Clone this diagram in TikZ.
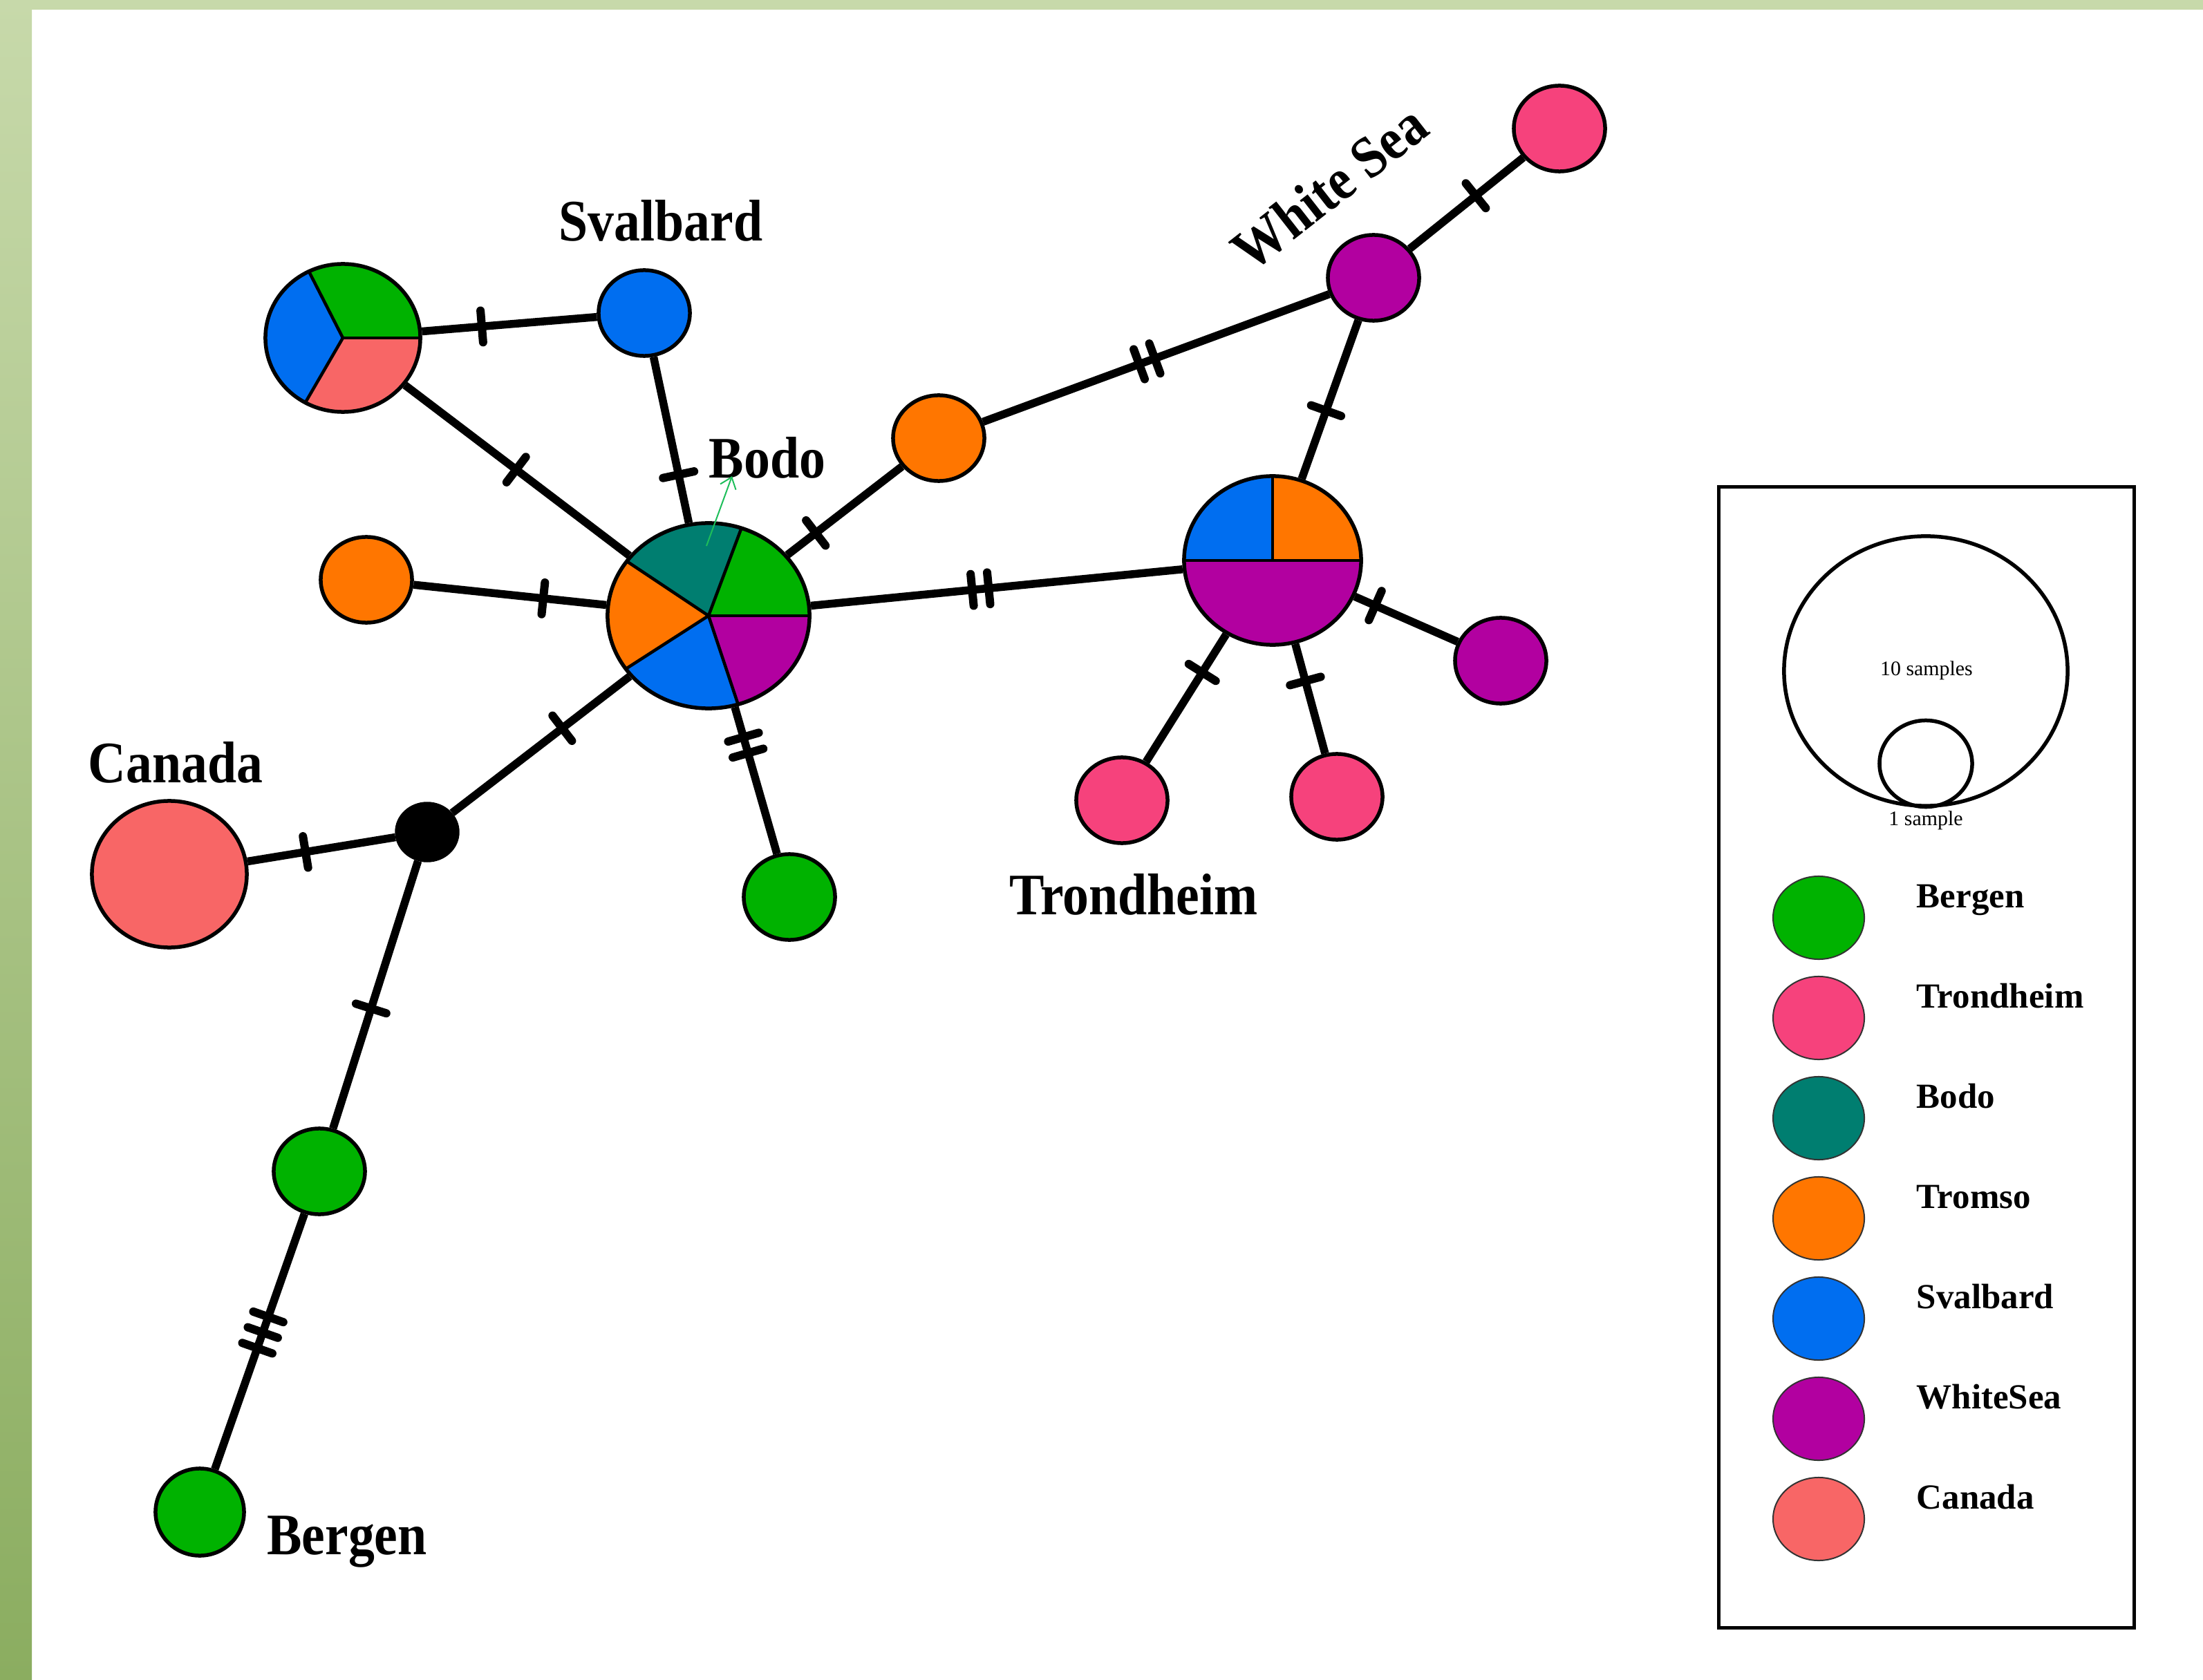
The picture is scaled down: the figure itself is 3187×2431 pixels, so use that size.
\documentclass[tikz,border=0pt]{standalone}
\usepackage{fontspec}
\setmainfont{Liberation Serif}
\newfontfamily\lblfont[FakeStretch=0.89]{Liberation Serif}
\usetikzlibrary{shapes.geometric,arrows.meta}
\pgfdeclarelayer{under}
\pgfsetlayers{under,main}
\definecolor{cGreen}{RGB}{0,178,0}
\definecolor{cPink}{RGB}{246,66,124}
\definecolor{cTeal}{RGB}{0,126,112}
\definecolor{cOrange}{RGB}{255,118,0}
\definecolor{cBlue}{RGB}{0,110,240}
\definecolor{cMag}{RGB}{178,0,160}
\definecolor{cCan}{RGB}{248,102,102}
\definecolor{cArrow}{RGB}{30,190,90}
\definecolor{frTop}{RGB}{199,217,170}
\definecolor{frBot}{RGB}{139,173,96}
\newcommand\piesec[6]{\fill[#6] (#1) -- ++({-(#4)}:{#2} and {#3}) arc[start angle={-(#4)}, end angle={-(#5)}, x radius={#2}, y radius={#3}] -- cycle;}
\newcommand\piediv[4]{\draw[divln] (#1) -- ++({-(#4)}:{#2} and {#3});}
\newcommand\hedge[4]{\draw[edge] (#1) -- (#2); \path (#1.center) -- (#2.center) pic[pos=#3, sloped]{#4};}
\tikzset{
  hap/.style={ellipse, draw=black, line width=0.055cm, inner sep=0pt, minimum width=1.32cm, minimum height=1.24cm},
  pienode/.style 2 args={ellipse, draw=black, line width=0.055cm, inner sep=0pt, minimum width=#1, minimum height=#2},
  edge/.style={line width=0.115cm, black},
  divln/.style={line width=0.045cm, black},
  tickst/.style={line width=0.12cm, line cap=round, black},
  t1/.pic={\draw[tickst] (0,-23) -- (0,23);},
  t2/.pic={\draw[tickst] (-12,-23) -- (-12,23) (12,-23) -- (12,23);},
  t3/.pic={\draw[tickst] (-24,-23) -- (-24,23) (0,-23) -- (0,23) (24,-23) -- (24,23);},
  lbl/.style={font=\lblfont\bfseries\fontsize{24.2}{29}\selectfont, inner sep=0pt, anchor=base},
  legc/.style={ellipse, draw=black!80, line width=0.02cm, inner sep=0pt, minimum width=1.32cm, minimum height=1.20cm},
  legl/.style={font=\bfseries\fontsize{14.5}{17}\selectfont, inner sep=0pt, anchor=base west},
  smp/.style={font=\fontsize{8.5}{10}\selectfont, inner sep=0pt},
  arrowst/.style={cArrow, line width=0.02cm, -{Straight Barb[length=1.5mm, width=2.4mm]}}
}
\begin{document}
\begin{tikzpicture}[x=0.01cm, y=-0.01cm]
\useasboundingbox (0,0) rectangle (3187,2431);
% haplotype nodes
\node[pienode={2.24cm}{2.14cm}] (tri) at (496,489) {};
\node[hap, fill=cBlue] (sval) at (932,453) {};
\node[pienode={2.92cm}{2.68cm}] (bodo) at (1025,891) {};
\node[hap, fill=cOrange] (orL) at (530,839) {};
\node[hap, fill=cOrange] (orU) at (1358,634) {};
\node[hap, fill=cMag] (ws) at (1987,402) {};
\node[hap, fill=cPink] (tpk) at (2256,186) {};
\node[pienode={2.56cm}{2.44cm}] (trd) at (1841,811) {};
\node[hap, fill=cMag] (magR) at (2171,956) {};
\node[hap, fill=cPink] (pkM) at (1934,1153) {};
\node[hap, fill=cPink] (pkL) at (1623,1158) {};
\node[hap, fill=cGreen] (grB) at (1142,1298) {};
\node[ellipse, fill=black, draw=black, inner sep=0pt, minimum width=0.92cm, minimum height=0.86cm] (blk) at (618,1204) {};
\node[hap, fill=cCan, minimum width=2.24cm, minimum height=2.12cm] (can) at (245,1265) {};
\node[hap, fill=cGreen] (grM) at (462,1695) {};
\node[hap, fill=cGreen, minimum height=1.26cm, minimum width=1.28cm] (grBot) at (289,2188) {};
% labels
\node[lbl] (lSval) at (956,349) {Svalbard};
\node[lbl] (lBodo) at (1110,692) {Bodo};
\node[lbl] (lCan) at (254,1132) {Canada};
\node[lbl] (lTrd) at (1640,1323) {Trondheim};
\node[lbl] (lBer) at (502,2249) {Bergen};
\node[lbl, anchor=center, rotate=38] (lWS) at (1923,271) {White Sea};
\coordinate (arrS) at (1022,790);
\coordinate (arrT) at (1059,689);
\draw[arrowst] (arrS) -- (arrT);
% legend
\node[draw=black, line width=0.05cm, minimum width=6.00cm, minimum height=16.50cm, inner sep=0pt] (legend) at (2787,1530) {};
\node[ellipse, draw=black, line width=0.055cm, inner sep=0pt, minimum width=4.10cm, minimum height=3.90cm] (big) at (2786,971) {};
\node[ellipse, draw=black, line width=0.055cm, inner sep=0pt, minimum width=1.34cm, minimum height=1.25cm] (small) at (2786,1105) {};
\node[smp] (s10) at (2787,970) {10 samples};
\node[smp] (s1) at (2786,1187) {1 sample};
\node[legc, fill=cGreen] (kB) at (2631,1328) {};
\node[legc, fill=cPink] (kT) at (2631,1473) {};
\node[legc, fill=cTeal] (kBo) at (2631,1618) {};
\node[legc, fill=cOrange] (kTr) at (2631,1763) {};
\node[legc, fill=cBlue] (kS) at (2631,1908) {};
\node[legc, fill=cMag] (kW) at (2631,2053) {};
\node[legc, fill=cCan] (kC) at (2631,2198) {};
\node[legl] (tB) at (2772,1313) {Bergen};
\node[legl] (tT) at (2772,1458) {Trondheim};
\node[legl] (tBo) at (2772,1603) {Bodo};
\node[legl] (tTr) at (2772,1748) {Tromso};
\node[legl] (tS) at (2772,1893) {Svalbard};
\node[legl] (tW) at (2772,2038) {WhiteSea};
\node[legl] (tC) at (2772,2183) {Canada};
\begin{pgfonlayer}{under}
\fill[white] (0,0) rectangle (3187,2431);
\shade[top color=frTop, bottom color=frBot] (0,0) rectangle (46,2431);
\fill[frTop] (0,0) rectangle (3187,14);
% pies
\piesec{tri.center}{112}{107}{0}{116}{cGreen}
\piesec{tri.center}{112}{107}{116}{241}{cBlue}
\piesec{tri.center}{112}{107}{241}{360}{cCan}
\piediv{tri.center}{112}{107}{0}
\piediv{tri.center}{112}{107}{116}
\piediv{tri.center}{112}{107}{241}
\piesec{bodo.center}{146}{134}{0}{71}{cGreen}
\piesec{bodo.center}{146}{134}{71}{144}{cTeal}
\piesec{bodo.center}{146}{134}{144}{215}{cOrange}
\piesec{bodo.center}{146}{134}{215}{287}{cBlue}
\piesec{bodo.center}{146}{134}{287}{360}{cMag}
\piediv{bodo.center}{146}{134}{0}
\piediv{bodo.center}{146}{134}{71}
\piediv{bodo.center}{146}{134}{144}
\piediv{bodo.center}{146}{134}{215}
\piediv{bodo.center}{146}{134}{287}
\piesec{trd.center}{128}{122}{0}{90}{cOrange}
\piesec{trd.center}{128}{122}{90}{180}{cBlue}
\piesec{trd.center}{128}{122}{180}{360}{cMag}
\piediv{trd.center}{128}{122}{0}
\piediv{trd.center}{128}{122}{90}
\piediv{trd.center}{128}{122}{180}
% connectors with mutation ticks
\hedge{tri}{sval}{0.461}{t1}
\hedge{tri}{bodo}{0.474}{t1}
\hedge{sval}{bodo}{0.534}{t1}
\hedge{orL}{bodo}{0.517}{t1}
\hedge{bodo}{orU}{0.466}{t1}
\hedge{orU}{ws}{0.479}{t2}
\hedge{ws}{tpk}{0.55}{t1}
\hedge{ws}{trd}{0.47}{t1}
\hedge{bodo}{trd}{0.482}{t2}
\hedge{trd}{magR}{0.45}{t1}
\hedge{trd}{pkM}{0.51}{t1}
\hedge{trd}{pkL}{0.467}{t1}
\hedge{bodo}{grB}{0.46}{t2}
\hedge{bodo}{blk}{0.52}{t1}
\hedge{blk}{can}{0.472}{t1}
\hedge{blk}{grM}{0.52}{t1}
\hedge{grM}{grBot}{0.473}{t3}
\end{pgfonlayer}
\end{tikzpicture}
\end{document}
